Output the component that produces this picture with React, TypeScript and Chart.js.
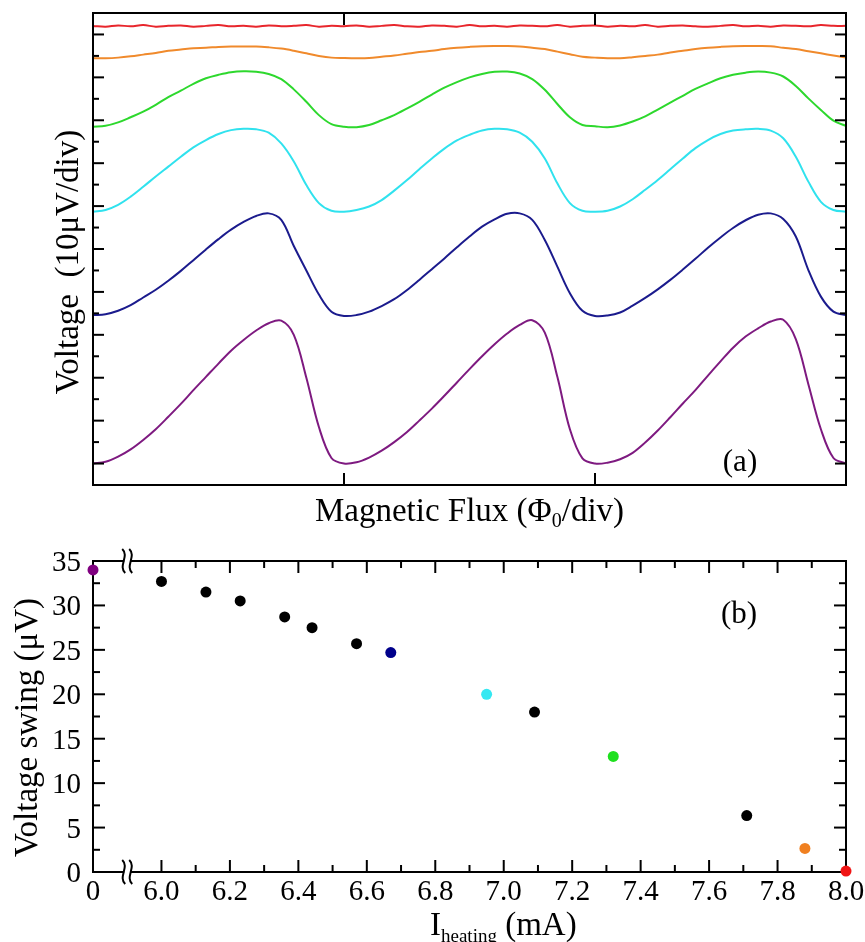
import React, { useEffect, useRef } from 'react';
import { Chart, registerables } from 'chart.js';
Chart.register(...registerables);

const FONT = '"Liberation Serif", "Times New Roman", serif';

// ---------- Panel (a): voltage–flux curves (μV, offset traces) ----------
const flux = [
  0, 0.05, 0.1, 0.15, 0.2, 0.25, 0.3, 0.35, 0.4, 0.45, 0.5, 0.55, 0.6, 0.65, 0.7, 0.75, 0.8, 0.85, 0.9, 0.95,
  1.0, 1.05, 1.1, 1.15, 1.2, 1.25, 1.3, 1.35, 1.4, 1.45, 1.5, 1.55, 1.6, 1.65, 1.7, 1.75, 1.8, 1.85, 1.9, 1.95,
  2.0, 2.05, 2.1, 2.15, 2.2, 2.25, 2.3, 2.35, 2.4, 2.45, 2.5, 2.55, 2.6, 2.65, 2.7, 2.75, 2.8, 2.85, 2.9, 2.95,
  3.0,
];

const purpleTrace = [
  0.0, 0.4, 1.6, 3.3, 5.5, 8.0, 10.9, 13.9, 17.1, 20.2, 23.3, 26.3, 28.8, 31.0, 32.7, 33.3, 30.0, 20.0, 8.5, 1.3,
  0.0, 0.3, 1.4, 3.0, 5.0, 7.3, 10.0, 12.8, 15.8, 18.9, 22.0, 25.0, 27.8, 30.3, 32.3, 33.4, 30.5, 20.2, 8.0, 1.2,
  0.0, 0.2, 1.0, 2.5, 4.9, 7.7, 10.8, 14.0, 17.1, 20.5, 23.8, 27.0, 29.6, 31.5, 33.1, 33.5, 29.0, 18.5, 8.0, 1.3,
  0.0,
];
const navyTrace = [
  34.6, 34.8, 35.6, 36.9, 38.7, 40.5, 42.6, 44.9, 47.4, 49.9, 52.3, 54.5, 56.3, 57.7, 58.3, 56.8, 50.7, 45.0, 39.4, 35.4,
  34.4, 34.6, 35.4, 36.7, 38.3, 40.4, 42.8, 45.3, 47.8, 50.4, 52.9, 55.2, 56.9, 58.2, 58.3, 56.8, 52.1, 45.9, 39.7, 35.6,
  34.4, 34.5, 35.2, 36.8, 38.6, 40.6, 42.8, 45.2, 47.7, 50.3, 52.7, 54.9, 56.7, 58.0, 58.3, 57.0, 52.9, 45.1, 38.9, 35.4,
  34.6,
];
const cyanTrace = [
  58.7, 59.1, 60.3, 62.2, 64.5, 66.9, 69.2, 71.5, 73.7, 75.4, 76.8, 77.7, 78.0, 77.9, 77.1, 74.6, 70.4, 64.9, 60.7, 58.9,
  58.7, 59.1, 59.9, 61.4, 63.6, 66.0, 68.6, 71.1, 73.4, 75.3, 76.6, 77.6, 78.0, 77.9, 77.1, 75.0, 71.1, 65.3, 60.7, 58.9,
  58.7, 58.9, 59.9, 61.6, 63.8, 66.1, 68.6, 71.1, 73.5, 75.4, 76.8, 77.6, 77.9, 78.0, 77.6, 75.8, 71.5, 65.7, 61.0, 59.1,
  58.7,
];
const greenTrace = [
  78.5, 78.7, 79.5, 80.7, 82.0, 83.6, 85.4, 86.9, 88.5, 89.8, 90.6, 91.2, 91.4, 91.3, 90.8, 89.6, 87.2, 84.3, 81.2, 79.1,
  78.5, 78.4, 78.9, 80.0, 81.2, 82.7, 84.3, 86.0, 87.6, 88.9, 90.0, 90.8, 91.3, 91.35, 90.9, 89.6, 87.1, 83.8, 80.7, 78.9,
  78.6, 78.4, 78.8, 79.7, 80.9, 82.5, 84.1, 85.7, 87.3, 88.6, 89.8, 90.6, 91.1, 91.35, 91.1, 90.2, 88.0, 85.1, 82.4, 79.9,
  78.7,
];
const orangeTrace = [
  94.45, 94.45, 94.6, 94.9, 95.3, 95.7, 96.2, 96.5, 96.8, 96.9, 97.1, 97.2, 97.2, 97.2, 97.0, 96.7, 96.2, 95.6, 95.0, 94.6,
  94.5, 94.45, 94.5, 94.8, 95.1, 95.5, 95.9, 96.2, 96.6, 96.9, 97.1, 97.25, 97.3, 97.3, 97.2, 96.9, 96.6, 96.0, 95.4, 94.8,
  94.6, 94.45, 94.45, 94.7, 95.0, 95.3, 95.8, 96.2, 96.6, 96.9, 97.1, 97.25, 97.3, 97.3, 97.25, 96.9, 96.6, 96.1, 95.6, 95.1,
  94.6,
];
const redTrace = [
  102.0, 101.8, 102.1, 101.9, 102.2, 101.8, 102.0, 102.1, 101.8, 102.0, 102.2, 101.9, 102.0, 101.8, 102.1, 101.9, 102.0, 102.2, 101.8, 102.0,
  101.9, 102.1, 101.8, 102.0, 102.2, 101.9, 101.8, 102.1, 102.0, 101.8, 102.2, 101.9, 102.0, 101.8, 102.1, 102.0, 101.9, 102.2, 101.8, 102.0,
  102.1, 101.8, 102.0, 101.9, 102.2, 101.8, 102.0, 102.1, 101.9, 101.8, 102.0, 102.2, 101.9, 102.0, 101.8, 102.1, 102.0, 101.9, 102.2, 102.0,
  102.0,
];

const fluxTicksA = [1, 2];
const voltMajorA = [0, 10, 20, 30, 40, 50, 60, 70, 80, 90, 100];
const voltMinorA = [5, 15, 25, 35, 45, 55, 65, 75, 85, 95];

// ---------- Panel (b): voltage swing vs heating current ----------
const heatingCurrent = [0, 6.0, 6.13, 6.23, 6.36, 6.44, 6.57, 6.67, 6.95, 7.09, 7.32, 7.71, 7.88, 8.0];
const voltageSwing = [34.0, 32.7, 31.5, 30.5, 28.7, 27.5, 25.7, 24.7, 20.0, 18.0, 13.0, 6.35, 2.65, 0.1];

const ZERO_AT = 5.8; // axis position where the broken axis shows "0"
const BREAK_AT = 5.9;
const xLabelValuesB = [5.8, 6.0, 6.2, 6.4, 6.6, 6.8, 7.0, 7.2, 7.4, 7.6, 7.8, 8.0];
const xLabelTextB = ['0', '6.0', '6.2', '6.4', '6.6', '6.8', '7.0', '7.2', '7.4', '7.6', '7.8', '8.0'];
const xMajorB = [6.0, 6.2, 6.4, 6.6, 6.8, 7.0, 7.2, 7.4, 7.6, 7.8];
const xMinorB = [6.1, 6.3, 6.5, 6.7, 6.9, 7.1, 7.3, 7.5, 7.7, 7.9];
const yLabelValuesB = [0, 5, 10, 15, 20, 25, 30, 35];
const yMajorB = [5, 10, 15, 20, 25, 30];
const yMinorB = [2.5, 7.5, 12.5, 17.5, 22.5, 27.5, 32.5];

const traceColors = {
  purple: '#7e1a80',
  navy: '#1b1b8d',
  cyan: '#30e2ee',
  green: '#2dd82d',
  orange: '#f08a2c',
  red: '#e8262c',
};
const swingColors = [
  '#800080', '#000000', '#000000', '#000000', '#000000', '#000000', '#000000',
  '#00008b', '#35e8f2', '#000000', '#1ee01e', '#000000', '#f08020', '#f01414',
];

function line(ctx: CanvasRenderingContext2D, x1: number, y1: number, x2: number, y2: number) {
  ctx.beginPath();
  ctx.moveTo(x1, y1);
  ctx.lineTo(x2, y2);
  ctx.stroke();
}

function drawRuns(
  ctx: CanvasRenderingContext2D,
  parts: { t: string; size: number; dy?: number }[],
  x: number,
  y: number,
  align: 'center' | 'left'
) {
  let total = 0;
  for (const p of parts) {
    ctx.font = `${p.size}px ${FONT}`;
    total += ctx.measureText(p.t).width;
  }
  let cx = align === 'center' ? x - total / 2 : x;
  ctx.textAlign = 'left';
  ctx.textBaseline = 'alphabetic';
  for (const p of parts) {
    ctx.font = `${p.size}px ${FONT}`;
    ctx.fillText(p.t, cx, y + (p.dy || 0));
    cx += ctx.measureText(p.t).width;
  }
}

const decorA = {
  id: 'decorA',
  afterDatasetsDraw(chart: any) {
    const { ctx, chartArea, scales } = chart;
    const { left, right, top, bottom } = chartArea;
    const x = scales.x;
    const y = scales.y;
    ctx.save();
    ctx.strokeStyle = '#000';
    ctx.lineWidth = 2;
    for (const v of voltMajorA) {
      const py = y.getPixelForValue(v);
      line(ctx, left, py, left + 11, py);
      line(ctx, right, py, right - 11, py);
    }
    for (const v of voltMinorA) {
      const py = y.getPixelForValue(v);
      line(ctx, left, py, left + 6, py);
      line(ctx, right, py, right - 6, py);
    }
    for (const v of fluxTicksA) {
      const px = x.getPixelForValue(v);
      line(ctx, px, top, px, top + 12);
      line(ctx, px, bottom, px, bottom - 12);
    }
    ctx.strokeRect(left, top, right - left, bottom - top);
    ctx.restore();
  },
  afterDraw(chart: any) {
    const { ctx, chartArea } = chart;
    const { left, right, top, bottom } = chartArea;
    ctx.save();
    ctx.fillStyle = '#000';
    ctx.font = `31px ${FONT}`;
    ctx.textAlign = 'center';
    ctx.textBaseline = 'alphabetic';
    ctx.fillText('(a)', 740, 471);
    drawRuns(
      ctx,
      [
        { t: 'Magnetic Flux (Φ', size: 33 },
        { t: '0', size: 20, dy: 6 },
        { t: '/div)', size: 33 },
      ],
      (left + right) / 2,
      521,
      'center'
    );
    ctx.translate(78, (top + bottom) / 2 + 13);
    ctx.rotate(-Math.PI / 2);
    ctx.font = `33px ${FONT}`;
    ctx.textAlign = 'center';
    ctx.fillText('Voltage  (10μV/div)', 0, 0);
    ctx.restore();
  },
};

const decorB = {
  id: 'decorB',
  beforeDatasetsDraw(chart: any) {
    const { ctx, chartArea, scales } = chart;
    const { left, right, top, bottom } = chartArea;
    const x = scales.x;
    const y = scales.y;
    ctx.save();
    ctx.strokeStyle = '#000';
    ctx.lineWidth = 2;
    ctx.strokeRect(left, top, right - left, bottom - top);
    for (const v of xMajorB) {
      const px = x.getPixelForValue(v);
      line(ctx, px, bottom, px, bottom - 12);
      line(ctx, px, top, px, top + 12);
    }
    for (const v of xMinorB) {
      const px = x.getPixelForValue(v);
      line(ctx, px, bottom, px, bottom - 7);
      line(ctx, px, top, px, top + 7);
    }
    for (const v of yMajorB) {
      const py = y.getPixelForValue(v);
      line(ctx, left, py, left + 12, py);
      line(ctx, right, py, right - 12, py);
    }
    for (const v of yMinorB) {
      const py = y.getPixelForValue(v);
      line(ctx, left, py, left + 7, py);
      line(ctx, right, py, right - 7, py);
    }
    const bx = x.getPixelForValue(BREAK_AT);
    for (const by of [top, bottom]) {
      ctx.fillStyle = '#fff';
      ctx.fillRect(bx - 3, by - 3, 6, 6);
      for (const off of [-3.5, 3.5]) {
        ctx.beginPath();
        ctx.moveTo(bx + off - 1.5, by - 12);
        ctx.bezierCurveTo(bx + off + 6, by - 5, bx + off - 6, by + 5, bx + off + 1.5, by + 12);
        ctx.stroke();
      }
    }
    ctx.restore();
  },
  afterDraw(chart: any) {
    const { ctx, scales, chartArea } = chart;
    const { top, bottom } = chartArea;
    const x = scales.x;
    const y = scales.y;
    ctx.save();
    ctx.fillStyle = '#000';
    ctx.font = `29px ${FONT}`;
    ctx.textBaseline = 'alphabetic';
    ctx.textAlign = 'center';
    xLabelValuesB.forEach((v, i) => {
      ctx.fillText(xLabelTextB[i], x.getPixelForValue(v), bottom + 28);
    });
    ctx.textAlign = 'right';
    for (const v of yLabelValuesB) {
      ctx.fillText(String(v), 81, y.getPixelForValue(v) + 10);
    }
    ctx.font = `31px ${FONT}`;
    ctx.textAlign = 'center';
    ctx.fillText('(b)', 739, 78);
    drawRuns(
      ctx,
      [
        { t: 'I', size: 33 },
        { t: 'heating', size: 19, dy: 7 },
        { t: ' (mA)', size: 33 },
      ],
      430,
      390,
      'left'
    );
    ctx.translate(37, (top + bottom) / 2 + 11);
    ctx.rotate(-Math.PI / 2);
    ctx.font = `33px ${FONT}`;
    ctx.textAlign = 'center';
    ctx.fillText('Voltage swing (μV)', 0, 0);
    ctx.restore();
  },
};

function traceDataset(values: number[], color: string) {
  return {
    data: flux.map((f, i) => ({ x: f, y: values[i] })),
    borderColor: color,
    borderWidth: 2,
    pointRadius: 0,
    fill: false,
    tension: 0.35,
  };
}

export default function App() {
  const refA = useRef<HTMLCanvasElement>(null);
  const refB = useRef<HTMLCanvasElement>(null);

  useEffect(() => {
    const chartA = new Chart(refA.current as HTMLCanvasElement, {
      type: 'line',
      data: {
        datasets: [
          traceDataset(redTrace, traceColors.red),
          traceDataset(orangeTrace, traceColors.orange),
          traceDataset(greenTrace, traceColors.green),
          traceDataset(cyanTrace, traceColors.cyan),
          traceDataset(navyTrace, traceColors.navy),
          traceDataset(purpleTrace, traceColors.purple),
        ] as any,
      },
      options: {
        animation: false,
        responsive: false,
        devicePixelRatio: 1,
        layout: { padding: { left: 93, top: 13, right: 19, bottom: 60 } },
        plugins: { legend: { display: false }, tooltip: { enabled: false } },
        events: [],
        scales: {
          x: { type: 'linear', min: 0, max: 3, display: false },
          y: { type: 'linear', min: -5, max: 105, display: false },
        },
      },
      plugins: [decorA],
    });

    const chartB = new Chart(refB.current as HTMLCanvasElement, {
      type: 'scatter',
      data: {
        datasets: [
          {
            data: heatingCurrent.map((c, i) => ({ x: c === 0 ? ZERO_AT : c, y: voltageSwing[i] })),
            pointBackgroundColor: swingColors,
            pointBorderWidth: 0,
            pointRadius: 5.5,
            showLine: false,
            clip: false,
          } as any,
        ],
      },
      options: {
        animation: false,
        responsive: false,
        devicePixelRatio: 1,
        layout: { padding: { left: 93, top: 16, right: 19, bottom: 70 } },
        plugins: { legend: { display: false }, tooltip: { enabled: false } },
        events: [],
        scales: {
          x: { type: 'linear', min: 5.8, max: 8.0, display: false },
          y: { type: 'linear', min: 0, max: 35, display: false },
        },
      },
      plugins: [decorB],
    });

    return () => {
      chartA.destroy();
      chartB.destroy();
    };
  }, []);

  return (
    <div style={{ position: 'absolute', left: 0, top: 0, width: 865, height: 942, background: '#fff' }}>
      <canvas
        ref={refA}
        width={865}
        height={545}
        style={{ position: 'absolute', left: 0, top: 0, width: 865, height: 545, display: 'block' }}
      />
      <canvas
        ref={refB}
        width={865}
        height={397}
        style={{ position: 'absolute', left: 0, top: 545, width: 865, height: 397, display: 'block' }}
      />
    </div>
  );
}
